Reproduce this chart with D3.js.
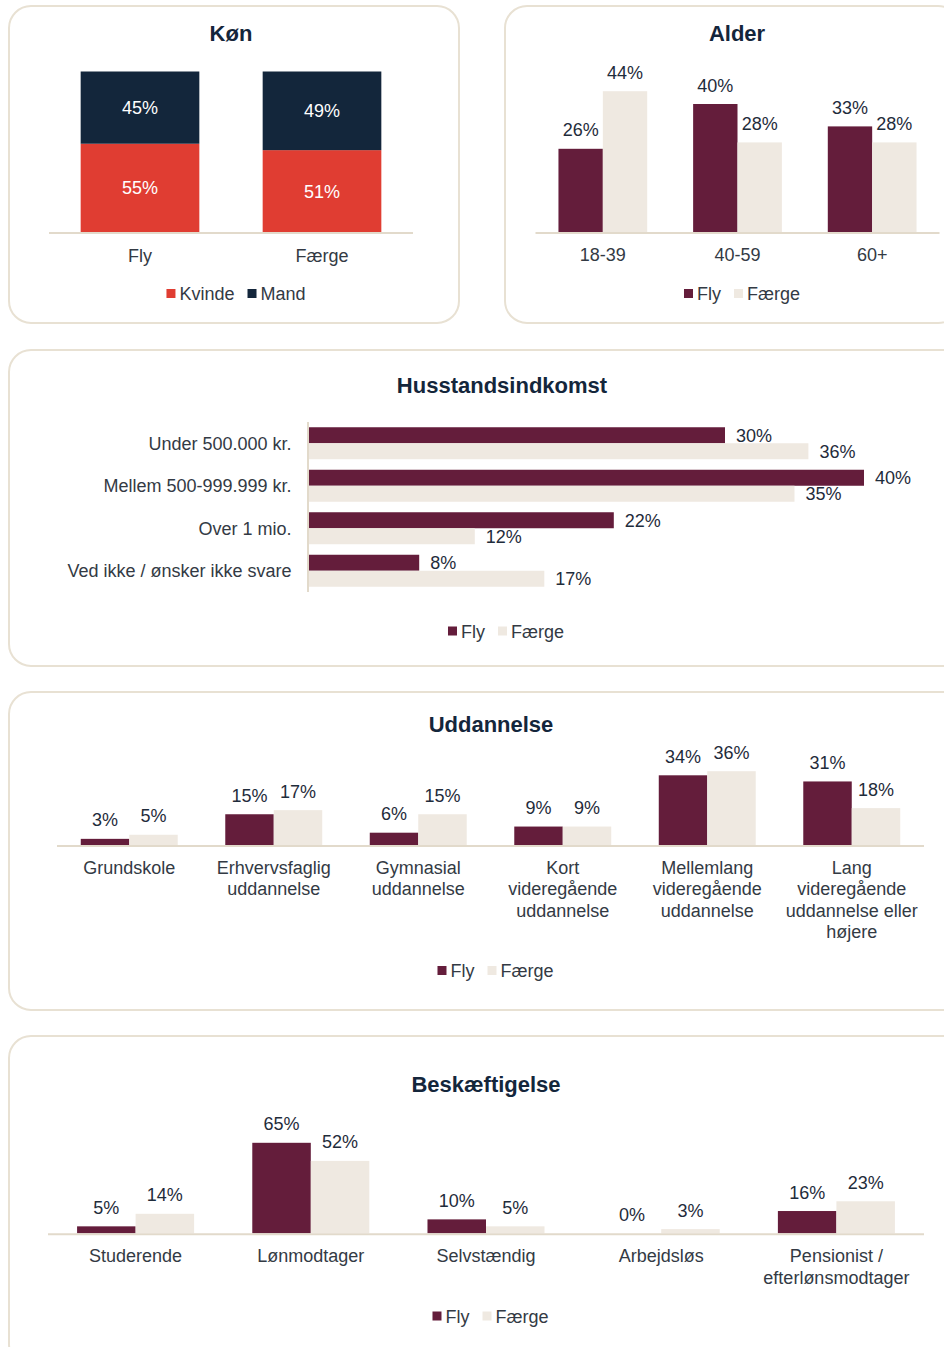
<!DOCTYPE html>
<html><head><meta charset="utf-8">
<script src="https://cdn.jsdelivr.net/npm/d3@7"></script>
<style>
html,body{margin:0;padding:0;background:#fff;}
svg{display:block;font-family:"Liberation Sans",Arial,sans-serif;}
</style></head>
<body>
<svg id="c" width="944" height="1347"></svg>
<script>
// ---------- DATA ----------
const konCats = ["Fly", "Færge"];
const konKvinde = [55, 51];
const konMand = [45, 49];

const alderCats = ["18-39", "40-59", "60+"];
const alderFly = [26, 40, 33];
const alderFaerge = [44, 28, 28];

const indkomstCats = ["Under 500.000 kr.", "Mellem 500-999.999 kr.", "Over 1 mio.", "Ved ikke / ønsker ikke svare"];
const indkomstFly = [30, 40, 22, 8];
const indkomstFaerge = [36, 35, 12, 17];

const uddCats = [["Grundskole"], ["Erhvervsfaglig", "uddannelse"], ["Gymnasial", "uddannelse"],
  ["Kort", "videregående", "uddannelse"], ["Mellemlang", "videregående", "uddannelse"],
  ["Lang", "videregående", "uddannelse eller", "højere"]];
const uddFly = [3, 15, 6, 9, 34, 31];
const uddFaerge = [5, 17, 15, 9, 36, 18];

const beskCats = [["Studerende"], ["Lønmodtager"], ["Selvstændig"], ["Arbejdsløs"], ["Pensionist /", "efterlønsmodtager"]];
const beskFly = [5, 65, 10, 0, 16];
const beskFaerge = [14, 52, 5, 3, 23];

const seriesNames = ["Fly", "Færge"];
const konSeries = ["Kvinde", "Mand"];

// ---------- STYLE ----------
const C = {
  fly: "#641d3b", faerge: "#efe9e1", kvinde: "#e03d32", mand: "#13263b",
  title: "#14263b", value: "#1f2c3b", cat: "#333a44", axis: "#e2dacb", border: "#e8e1d3"
};
const FS = 18;

const svg = d3.select("#c");

function panel(x, y, w, h) {
  svg.append("rect").attr("x", x).attr("y", y).attr("width", w).attr("height", h)
    .attr("rx", 22).attr("ry", 22).attr("fill", "#fff")
    .attr("stroke", C.border).attr("stroke-width", 2);
}
function title(txt, cx, y) {
  svg.append("text").attr("x", cx).attr("y", y).attr("text-anchor", "middle")
    .attr("font-size", 22).attr("font-weight", "bold").attr("fill", C.title).text(txt);
}
function legend(names, colors, cx, cy) {
  const g = svg.append("g");
  let x = 0;
  names.forEach((n, i) => {
    g.append("rect").attr("x", x).attr("y", cy - 5).attr("width", 9).attr("height", 9).attr("fill", colors[i]);
    const t = g.append("text").attr("x", x + 13).attr("y", cy + 6).attr("font-size", FS).attr("fill", C.cat).text(n);
    x += 13 + t.node().getComputedTextLength() + 13;
  });
  const w = x - 13;
  g.attr("transform", `translate(${cx - w / 2},0)`);
}

// ---------- PANELS ----------
panel(9, 6, 450, 317);
panel(505, 6, 455, 317);
panel(9, 350, 960, 316);
panel(9, 692, 960, 318);
panel(9, 1036, 960, 330);

// ---------- KØN (stacked) ----------
(function () {
  const x = d3.scaleBand().domain(konCats).range([49, 413]).paddingInner(0.348).paddingOuter(0.174);
  const y = d3.scaleLinear().domain([0, 100]).range([232, 71.5]);
  const data = konCats.map((c, i) => ({ cat: c, Kvinde: konKvinde[i], Mand: konMand[i] }));
  const stack = d3.stack().keys(konSeries)(data);
  const cols = [C.kvinde, C.mand];
  stack.forEach((s, si) => {
    svg.append("g").selectAll("rect").data(s).join("rect")
      .attr("x", d => x(d.data.cat)).attr("width", x.bandwidth())
      .attr("y", d => y(d[1])).attr("height", d => y(d[0]) - y(d[1])).attr("fill", cols[si]);
    svg.append("g").selectAll("text").data(s).join("text")
      .attr("x", d => x(d.data.cat) + x.bandwidth() / 2)
      .attr("y", d => (y(d[0]) + y(d[1])) / 2 + 6.5)
      .attr("text-anchor", "middle").attr("font-size", FS).attr("fill", "#fff")
      .text(d => (d[1] - d[0]) + "%");
  });
  svg.append("line").attr("x1", 49).attr("x2", 413).attr("y1", 233).attr("y2", 233)
    .attr("stroke", C.axis).attr("stroke-width", 2);
  svg.append("g").selectAll("text").data(konCats).join("text")
    .attr("x", d => x(d) + x.bandwidth() / 2).attr("y", 261.5).attr("text-anchor", "middle")
    .attr("font-size", FS).attr("fill", C.cat).text(d => d);
  title("Køn", 231, 41);
  legend(konSeries, [C.kvinde, C.mand], 236, 294);
})();

// ---------- grouped vertical ----------
function groupedV(opt) {
  const cats = opt.cats.map(c => Array.isArray(c) ? c.join(" ") : c);
  const x0 = d3.scaleBand().domain(cats).range(opt.xr).paddingInner(opt.pad).paddingOuter(opt.pad / 2);
  const x1 = d3.scaleBand().domain(seriesNames).range([0, x0.bandwidth()]);
  const y = d3.scaleLinear().domain(opt.yd).range(opt.yr);
  const vals = [opt.fly, opt.faerge];
  const cols = [C.fly, C.faerge];
  seriesNames.forEach((s, si) => {
    const d = cats.map((c, i) => ({ c, v: vals[si][i] }));
    svg.append("g").selectAll("rect").data(d).join("rect")
      .attr("x", e => x0(e.c) + x1(s)).attr("width", x1.bandwidth())
      .attr("y", e => y(e.v)).attr("height", e => y(0) - y(e.v)).attr("fill", cols[si]);
    svg.append("g").selectAll("text").data(d).join("text")
      .attr("x", e => x0(e.c) + x1(s) + x1.bandwidth() / 2)
      .attr("y", e => y(e.v) - 12.5).attr("text-anchor", "middle")
      .attr("font-size", FS).attr("fill", C.value).text(e => e.v + "%");
  });
  svg.append("line").attr("x1", opt.xr[0]).attr("x2", opt.xr[1]).attr("y1", y(0) + 1).attr("y2", y(0) + 1)
    .attr("stroke", C.axis).attr("stroke-width", 2);
  opt.cats.forEach((c, i) => {
    const lines = Array.isArray(c) ? c : [c];
    const t = svg.append("text").attr("text-anchor", "middle").attr("font-size", FS).attr("fill", C.cat);
    lines.forEach((l, li) => {
      t.append("tspan").attr("x", x0(cats[i]) + x0.bandwidth() / 2).attr("y", y(0) + 29 + li * 21.3).text(l);
    });
  });
}

// ---------- ALDER ----------
groupedV({ cats: alderCats, fly: alderFly, faerge: alderFaerge, xr: [535.5, 939.5], pad: 0.341,
  yd: [0, 50], yr: [232, 72] });
title("Alder", 737, 41);
legend(seriesNames, [C.fly, C.faerge], 742, 294);

// ---------- HUSSTANDSINDKOMST ----------
(function () {
  const y0 = d3.scaleBand().domain(indkomstCats).range([422, 592]).paddingInner(0.247).paddingOuter(0.1235);
  const y1 = d3.scaleBand().domain(seriesNames).range([0, y0.bandwidth()]);
  const x = d3.scaleLinear().domain([0, 40]).range([308, 864]);
  const vals = [indkomstFly, indkomstFaerge];
  const cols = [C.fly, C.faerge];
  seriesNames.forEach((s, si) => {
    const d = indkomstCats.map((c, i) => ({ c, v: vals[si][i] }));
    svg.append("g").selectAll("rect").data(d).join("rect")
      .attr("x", x(0)).attr("width", e => x(e.v) - x(0))
      .attr("y", e => y0(e.c) + y1(s)).attr("height", y1.bandwidth()).attr("fill", cols[si]);
    svg.append("g").selectAll("text").data(d).join("text")
      .attr("x", e => x(e.v) + 11).attr("y", e => y0(e.c) + y1(s) + y1.bandwidth() / 2 + 6.5)
      .attr("font-size", FS).attr("fill", C.value).text(e => e.v + "%");
  });
  svg.append("line").attr("x1", 308).attr("x2", 308).attr("y1", 422).attr("y2", 592)
    .attr("stroke", C.axis).attr("stroke-width", 2);
  svg.append("g").selectAll("text").data(indkomstCats).join("text")
    .attr("x", 291.5).attr("y", d => y0(d) + y0.bandwidth() / 2 + 6.5).attr("text-anchor", "end")
    .attr("font-size", FS).attr("fill", C.cat).text(d => d);
  title("Husstandsindkomst", 502, 393);
  legend(seriesNames, [C.fly, C.faerge], 506, 631.5);
})();

// ---------- UDDANNELSE ----------
groupedV({ cats: uddCats, fly: uddFly, faerge: uddFaerge, xr: [57, 924], pad: 0.329,
  yd: [0, 36], yr: [845, 771.2] });
title("Uddannelse", 491, 732);
legend(seriesNames, [C.fly, C.faerge], 495.5, 971);

// ---------- BESKÆFTIGELSE ----------
groupedV({ cats: beskCats, fly: beskFly, faerge: beskFaerge, xr: [48, 924], pad: 0.332,
  yd: [0, 65], yr: [1233.3, 1142.8] });
title("Beskæftigelse", 486, 1092);
legend(seriesNames, [C.fly, C.faerge], 490.5, 1316.5);
</script>
</body></html>
